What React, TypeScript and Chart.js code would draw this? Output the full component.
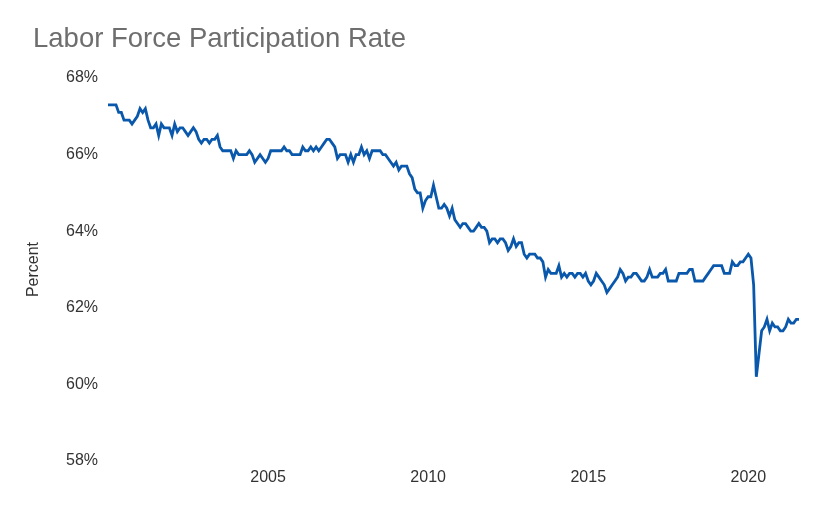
import React, { useEffect, useRef } from 'react';
import { Chart, LineController, LineElement, PointElement, LinearScale, Tooltip } from 'chart.js';

Chart.register(LineController, LineElement, PointElement, LinearScale, Tooltip);

// monthly civilian labor force participation rate, percent, Jan 2000 - Aug 2021
const startYear = 2000;
const rate2000 = [67.3, 67.3, 67.3, 67.3, 67.1, 67.1, 66.9, 66.9, 66.9, 66.8, 66.9, 67.0];
const rate2001 = [67.2, 67.1, 67.2, 66.9, 66.7, 66.7, 66.8, 66.5, 66.8, 66.7, 66.7, 66.7];
const rate2002 = [66.5, 66.8, 66.6, 66.7, 66.7, 66.6, 66.5, 66.6, 66.7, 66.6, 66.4, 66.3];
const rate2003 = [66.4, 66.4, 66.3, 66.4, 66.4, 66.5, 66.2, 66.1, 66.1, 66.1, 66.1, 65.9];
const rate2004 = [66.1, 66.0, 66.0, 66.0, 66.0, 66.1, 66.0, 65.8, 65.9, 66.0, 65.9, 65.8];
const rate2005 = [65.9, 66.1, 66.1, 66.1, 66.1, 66.1, 66.2, 66.1, 66.1, 66.0, 66.0, 66.0];
const rate2006 = [66.0, 66.2, 66.1, 66.1, 66.2, 66.1, 66.2, 66.1, 66.2, 66.3, 66.4, 66.4];
const rate2007 = [66.3, 66.2, 65.9, 66.0, 66.0, 66.0, 65.8, 66.0, 65.8, 66.0, 66.0, 66.2];
const rate2008 = [66.0, 66.1, 65.9, 66.1, 66.1, 66.1, 66.1, 66.0, 66.0, 65.9, 65.8, 65.7];
const rate2009 = [65.8, 65.6, 65.7, 65.7, 65.7, 65.5, 65.4, 65.1, 65.0, 65.0, 64.6, 64.8];
const rate2010 = [64.9, 64.9, 65.2, 64.9, 64.6, 64.6, 64.7, 64.6, 64.4, 64.6, 64.3, 64.2];
const rate2011 = [64.1, 64.2, 64.2, 64.1, 64.0, 64.0, 64.1, 64.2, 64.1, 64.1, 64.0, 63.7];
const rate2012 = [63.8, 63.8, 63.7, 63.8, 63.8, 63.7, 63.5, 63.6, 63.8, 63.6, 63.7, 63.7];
const rate2013 = [63.4, 63.3, 63.4, 63.4, 63.4, 63.3, 63.3, 63.2, 62.8, 63.0, 62.9, 62.9];
const rate2014 = [62.9, 63.1, 62.8, 62.9, 62.8, 62.9, 62.9, 62.8, 62.9, 62.9, 62.8, 62.9];
const rate2015 = [62.7, 62.6, 62.7, 62.9, 62.8, 62.7, 62.6, 62.4, 62.5, 62.6, 62.7, 62.8];
const rate2016 = [63.0, 62.9, 62.7, 62.8, 62.8, 62.9, 62.9, 62.8, 62.7, 62.7, 62.8, 63.0];
const rate2017 = [62.8, 62.8, 62.8, 62.9, 62.9, 63.0, 62.7, 62.7, 62.7, 62.7, 62.9, 62.9];
const rate2018 = [62.9, 62.9, 63.0, 63.0, 62.7, 62.7, 62.7, 62.7, 62.8, 62.9, 63.0, 63.1];
const rate2019 = [63.1, 63.1, 63.1, 62.9, 62.9, 62.9, 63.2, 63.1, 63.1, 63.2, 63.2, 63.3];
const rate2020 = [63.4, 63.3, 62.6, 60.2, 60.8, 61.4, 61.5, 61.7, 61.4, 61.6, 61.5, 61.5];
const rate2021 = [61.4, 61.4, 61.5, 61.7, 61.6, 61.6, 61.7, 61.7];

const yearTicks = [2005, 2010, 2015, 2020];

const rates = [
  ...rate2000, ...rate2001, ...rate2002, ...rate2003, ...rate2004, ...rate2005,
  ...rate2006, ...rate2007, ...rate2008, ...rate2009, ...rate2010, ...rate2011,
  ...rate2012, ...rate2013, ...rate2014, ...rate2015, ...rate2016, ...rate2017,
  ...rate2018, ...rate2019, ...rate2020, ...rate2021,
];

const tickFont = { family: '"Liberation Sans", Arial, sans-serif', size: 16 };

const App: React.FC = () => {
  const chartRef = useRef<HTMLCanvasElement>(null);

  useEffect(() => {
    document.body.style.margin = '0';
    const ctx = chartRef.current?.getContext('2d');
    if (!ctx) return;

    const points = rates.map((v, i) => ({ x: startYear + i / 12, y: v }));

    const chart = new Chart(ctx, {
      type: 'line',
      data: {
        datasets: [
          {
            label: 'Labor Force Participation Rate',
            data: points,
            borderColor: '#0a58ab',
            borderWidth: 2.8,
            pointRadius: 0,
            fill: false,
            tension: 0,
          },
        ],
      },
      options: {
        responsive: false,
        animation: false,
        layout: { padding: { top: 78, left: 23, right: 26, bottom: 0 } },
        plugins: {
          legend: { display: false },
          tooltip: { enabled: true },
        },
        scales: {
          x: {
            type: 'linear',
            min: startYear,
            max: startYear + (rates.length - 1) / 12,
            grid: { display: false, drawTicks: false },
            border: { display: false },
            afterBuildTicks: (axis) => {
              axis.ticks = yearTicks.map((v) => ({ value: v }));
            },
            afterFit: (axis) => {
              axis.height = 49;
            },
            ticks: {
              color: '#333',
              font: tickFont,
              padding: 7,
              maxRotation: 0,
              callback: (v) => String(v),
            },
          },
          y: {
            min: 58,
            max: 68,
            grid: { display: false, drawTicks: false },
            border: { display: false },
            afterFit: (axis) => {
              axis.width = 85;
            },
            title: {
              display: true,
              text: 'Percent',
              color: '#333',
              font: tickFont,
              padding: { top: 1, bottom: 0 },
            },
            ticks: {
              stepSize: 2,
              color: '#333',
              font: tickFont,
              padding: 10,
              callback: (v) => `${v}%`,
            },
          },
        },
      },
    });

    return () => {
      chart.destroy();
    };
  }, []);

  return (
    <div style={{ position: 'relative', width: 825, height: 510, background: '#fff' }}>
      <div
        style={{
          position: 'absolute',
          left: 33,
          top: 24,
          fontFamily: '"Liberation Sans", Arial, sans-serif',
          fontSize: 27.5,
          lineHeight: 1,
          color: '#6e6e6e',
          whiteSpace: 'nowrap',
        }}
      >
        Labor Force Participation Rate
      </div>
      <canvas ref={chartRef} width={825} height={510} />
    </div>
  );
};

export default App;
